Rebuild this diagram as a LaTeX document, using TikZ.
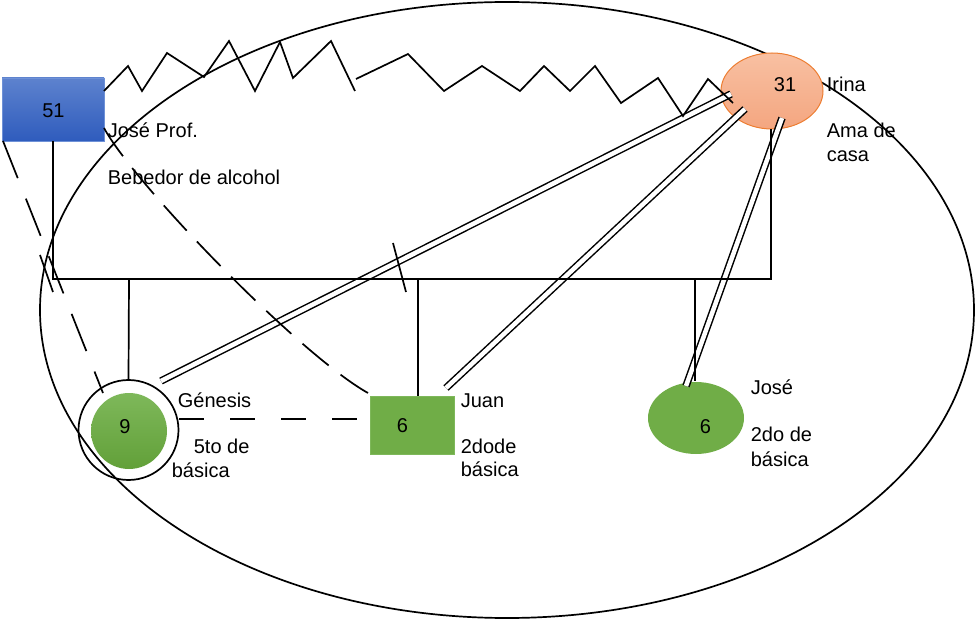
\documentclass[tikz,border=0pt]{standalone}
\usepackage{fontspec}
\setmainfont{Liberation Sans}
\usetikzlibrary{shapes.geometric}
\definecolor{bluetop}{RGB}{93,130,206}
\definecolor{bluebot}{RGB}{47,92,189}
\definecolor{blueedge}{RGB}{110,145,215}
\definecolor{ortop}{RGB}{248,192,162}
\definecolor{orbot}{RGB}{244,166,128}
\definecolor{oredge}{RGB}{237,125,49}
\definecolor{grn}{RGB}{112,173,71}
\definecolor{grntop}{RGB}{126,184,90}
\definecolor{grnbot}{RGB}{98,160,57}
\begin{document}
\begin{tikzpicture}[x=1pt,y=-1pt,line width=1.7pt,
  lbl/.style={anchor=base west,inner sep=0pt,font=\fontsize{20}{24}\selectfont},
  num/.style={anchor=base,inner sep=0pt,font=\fontsize{20}{24}\selectfont},
  rel/.style={double,double distance=4.5pt,line width=1.5pt},
  dshA/.style={dash pattern=on 40pt off 22pt},
  dshB/.style={dash pattern=on 34pt off 15pt},
  dshC/.style={dash pattern=on 25pt off 26pt},
  famline/.style={line width=1.7pt}]
\useasboundingbox (0,0) rectangle (975,620);

% ecomap ellipse
\node[draw,ellipse,minimum width=934pt,minimum height=616pt,inner sep=0pt] (eco) at (507,310) {};

% persons
\node[rectangle,draw=blueedge,line width=0.8pt,top color=bluetop,bottom color=bluebot,
      minimum width=102pt,minimum height=63pt,inner sep=0pt] (jose) at (53,109.5) {};
\node[ellipse,draw=oredge,line width=1pt,top color=ortop,bottom color=orbot,
      minimum width=102pt,minimum height=76pt,inner sep=0pt] (irina) at (772,91) {};
\node[circle,draw,minimum size=100pt,inner sep=0pt] (genO) at (128.5,430) {};
\node[circle,top color=grntop,bottom color=grnbot,minimum size=76pt,inner sep=0pt] (gen) at (129,431) {};
\node[rectangle,fill=grn,draw=grntop,line width=0.8pt,minimum width=84pt,minimum height=58pt,inner sep=0pt] (juan) at (412,425) {};
\node[ellipse,fill=grn,minimum width=96pt,minimum height=72pt,inner sep=0pt] (josej) at (696,418) {};

% coordinates
\coordinate (fL) at (53,279);
\coordinate (fR) at (771,279);
\coordinate (irB) at (771,129);
\coordinate (c1) at (129,279);
\coordinate (c2) at (418,279);
\coordinate (c3) at (695,279);

% double relationship lines (drawn first)
\draw[rel] (731,94) coordinate (r1a) -- (161,381) coordinate (r1b);
\draw[rel] (745,109) coordinate (r2a) -- (446,388) coordinate (r2b);
\draw[rel] (782,118) coordinate (r3a) -- (686,386) coordinate (r3b);

% family lines
\draw[famline] (jose.south) -- (fL) -- (fR) -- (irB);
\draw[famline] (c1) -- (genO.north);
\draw[famline] (c2) -- (juan.north -| c2);
\draw[famline] (c3) -- (josej.north -| c3);

% conflict zigzag between José and Irina
\draw (104,91) -- (128,66) -- (142,91) -- (167,53) -- (204,77) -- (229,41) -- (255,91)
  -- (280,42) -- (293,78) -- (331,41) -- (355,91);
\draw (356,79) -- (408,54) -- (444,91) -- (482,66) -- (520,91) -- (544,66) -- (570,91)
  -- (595,66) -- (621,103) -- (658,78) -- (683,116) -- (708,79) -- (733,103);

% dashed relations
\draw[dshA] (3,141) -- (103,393);
\draw[dshB] (104,128) .. controls (135,185) and (300,355) .. (368,393);
\draw[dshC] (genO.east |- 0,419) -- (juan.west |- 0,419);

% ticks
\coordinate (t1a) at (40,255); \coordinate (t1b) at (53,292);
\draw (t1a) -- (t1b);
\coordinate (t2a) at (393,243); \coordinate (t2b) at (406,292);
\draw (t2a) -- (t2b);

% numbers
\node[num] (n51) at (53.5,118) {51};
\node[num] (n31) at (785,92) {31};
\node[num] (n9) at (125,433) {9};
\node[num] (n6a) at (402.5,432) {6};
\node[num] (n6b) at (705.5,433) {6};

% labels
\node[lbl] (l1) at (107,138) {José Prof.};
\node[lbl] (l2) at (107,185) {Bebedor de alcohol};
\node[lbl] (l3) at (826,92) {Irina};
\node[lbl] (l4) at (826,138) {Ama de};
\node[lbl] (l5) at (826,162) {casa};
\node[lbl] (l6) at (177,407) {Génesis};
\node[lbl] (l7) at (193,453) {5to de};
\node[lbl] (l8) at (171,477) {básica};
\node[lbl] (l9) at (460,407) {Juan};
\node[lbl] (l10) at (460,453) {2dode};
\node[lbl] (l11) at (460,476) {básica};
\node[lbl] (l12) at (750,395) {José};
\node[lbl] (l13) at (750,441) {2do de};
\node[lbl] (l14) at (750,466) {básica};
\end{tikzpicture}
\end{document}
